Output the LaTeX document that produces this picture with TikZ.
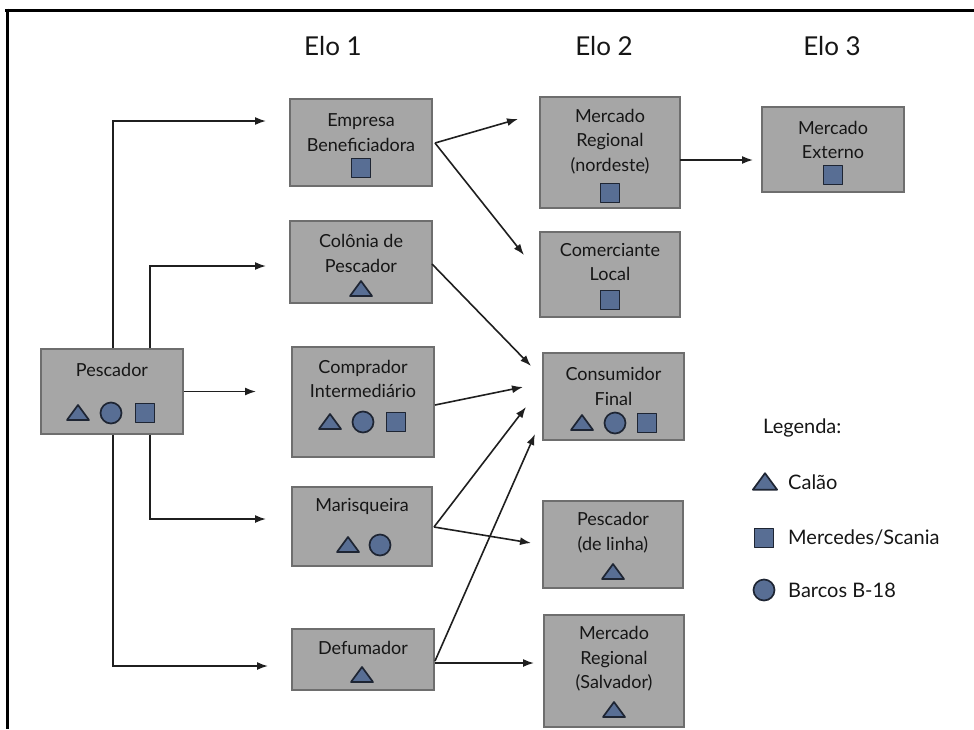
\documentclass[tikz,border=0pt]{standalone}
\usepackage{fontspec}
\setmainfont{Lato}
\usetikzlibrary{arrows.meta}
\definecolor{boxfill}{RGB}{166,166,166}
\definecolor{boxline}{RGB}{110,110,110}
\definecolor{shpfill}{RGB}{88,110,148}
\definecolor{shpline}{RGB}{30,37,51}
\definecolor{txt}{RGB}{22,22,22}
\tikzset{
  box/.style={draw=boxline, fill=boxfill, line width=1.3pt, inner sep=0pt},
  lbl/.style={align=center, text=txt, font=\fontsize{18}{24.5}\selectfont, inner sep=0pt},
  hdr/.style={text=txt, font=\fontsize{26}{30}\selectfont, inner sep=0pt},
  leg/.style={text=txt, font=\fontsize{20}{24}\selectfont, inner sep=0pt, anchor=west},
  shp/.style={draw=shpline, fill=shpfill, line width=1.7pt, line join=round},
  arr/.style={line width=1.6pt, draw=black!88, -{Latex[length=11pt,width=8pt]}},
  tri/.pic={\draw[shp] (-11,7) -- (11,7) -- (0,-8) -- cycle;},
  circ/.pic={\draw[shp] (0,0) circle[radius=10.5];},
  sq/.pic={\draw[shp] (-9.5,-9.5) rectangle (9.5,9.5);},
}
\begin{document}
\begin{tikzpicture}[x=1pt,y=-1pt]
\useasboundingbox (0,0) rectangle (974,729);
% frame
\draw[line width=3pt] (5,10) -- (974,10);
\draw[line width=3pt] (7,8.5) -- (7,729);
% headers
\node[hdr] (h1) at (333,46) {Elo 1};
\node[hdr] (h2) at (604,46) {Elo 2};
\node[hdr] (h3) at (832,46) {Elo 3};
% boxes
\node[box, minimum width=142pt, minimum height=85pt] (pesc) at (112,391.5) {};
\node[box, minimum width=142pt, minimum height=87pt] (emp) at (361,142.5) {};
\node[box, minimum width=142pt, minimum height=82pt] (col) at (361,262) {};
\node[box, minimum width=142pt, minimum height=110pt] (comp) at (363,402) {};
\node[box, minimum width=140pt, minimum height=79pt] (mar) at (362,526.5) {};
\node[box, minimum width=142pt, minimum height=61pt] (def) at (363,659.5) {};
\node[box, minimum width=140pt, minimum height=111pt] (mrn) at (610,152.5) {};
\node[box, minimum width=142pt, minimum height=85pt] (mext) at (833,149.5) {};
\node[box, minimum width=140pt, minimum height=85pt] (com) at (610,274.5) {};
\node[box, minimum width=141pt, minimum height=87pt] (cons) at (613.5,396.5) {};
\node[box, minimum width=140pt, minimum height=87pt] (pdl) at (613,544.5) {};
\node[box, minimum width=140pt, minimum height=112pt] (mrs) at (614,671) {};
% labels
\node[lbl] (pescL) at (112,370) {Pescador};
\node[lbl] (empL) at (361,132.5) {Empresa\\Beneficiadora};
\node[lbl] (colL) at (361,253.5) {Colônia de\\Pescador};
\node[lbl] (compL) at (363,379) {Comprador\\Intermediário};
\node[lbl] (marL) at (362,506) {Marisqueira};
\node[lbl] (defL) at (363,648) {Defumador};
\node[lbl] (mrnL) at (610,141.5) {Mercado\\Regional\\(nordeste)};
\node[lbl] (mextL) at (833,140) {Mercado\\Externo};
\node[lbl] (comL) at (610,262) {Comerciante\\Local};
\node[lbl] (consL) at (613.5,386.5) {Consumidor\\Final};
\node[lbl] (pdlL) at (613,532.5) {Pescador\\(de linha)};
\node[lbl] (mrsL) at (614,659) {Mercado\\Regional\\(Salvador)};
% symbols
\pic at (78,413) {tri}; \pic at (111,413) {circ}; \pic at (145,413) {sq};
\pic at (361,168) {sq};
\pic at (361,289) {tri};
\pic at (330,422) {tri}; \pic at (363,422) {circ}; \pic at (396,422) {sq};
\pic at (348,545) {tri}; \pic at (380,545) {circ};
\pic at (362,675) {tri};
\pic at (610,193) {sq};
\pic at (833,175) {sq};
\pic at (610,300) {sq};
\pic at (582,423) {tri}; \pic at (615,423) {circ}; \pic at (647,423) {sq};
\pic at (613,572) {tri};
\pic at (614,710) {tri};
% legend
\node[leg] (legT) at (763,428) {Legenda:};
\pic[scale=1.1] at (765,482) {tri};
\node[leg] (leg1) at (788,482) {Calão};
\pic at (764,538) {sq};
\node[leg] (leg2) at (788,538) {Mercedes/Scania};
\pic at (764,590) {circ};
\node[leg] (leg3) at (788,590) {Barcos B-18};
% helper coordinates
\coordinate (va) at (113,0);
\coordinate (vb) at (150,0);
\coordinate (ca) at (113,121);
\coordinate (cb) at (150,266);
\coordinate (cc) at (150,519);
\coordinate (cd) at (113,666);
\coordinate (tEmp) at (266,121);
\coordinate (tCol) at (266,266);
\coordinate (tComp) at (256,391.5);
\coordinate (tMar) at (266,519);
\coordinate (tDef) at (268,666);
\coordinate (sEmp) at (435,143);
\coordinate (tMrn) at (518,119);
\coordinate (tCom) at (524,255);
\coordinate (sCol) at (432,264);
\coordinate (tCons1) at (531,366);
\coordinate (sComp) at (435,405);
\coordinate (tCons2) at (523,387);
\coordinate (sMar) at (434,527);
\coordinate (tCons3) at (526,407);
\coordinate (tPdl) at (531,543);
\coordinate (sDef) at (435,661);
\coordinate (tCons4) at (535,434);
\coordinate (tMrs) at (534,663);
\coordinate (tExt) at (753,160);
\coordinate (sMrn) at (680,160);
% connectors from Pescador
\draw[arr] (pesc.north -| va) -- (ca) -- (tEmp);
\draw[arr] (pesc.north -| vb) -- (cb) -- (tCol);
\draw[arr] (pesc.east) -- (tComp);
\draw[arr] (pesc.south -| vb) -- (cc) -- (tMar);
\draw[arr] (pesc.south -| va) -- (cd) -- (tDef);
% Elo 1 -> Elo 2
\draw[arr] (sEmp) -- (tMrn);
\draw[arr] (sEmp) -- (tCom);
\draw[arr] (sCol) -- (tCons1);
\draw[arr] (sComp) -- (tCons2);
\draw[arr] (sMar) -- (tCons3);
\draw[arr] (sMar) -- (tPdl);
\draw[arr] (sDef) -- (tCons4);
\draw[arr] (sDef |- tMrs) -- (tMrs);
% Elo 2 -> Elo 3
\draw[arr] (sMrn) -- (tExt);
\end{tikzpicture}
\end{document}
